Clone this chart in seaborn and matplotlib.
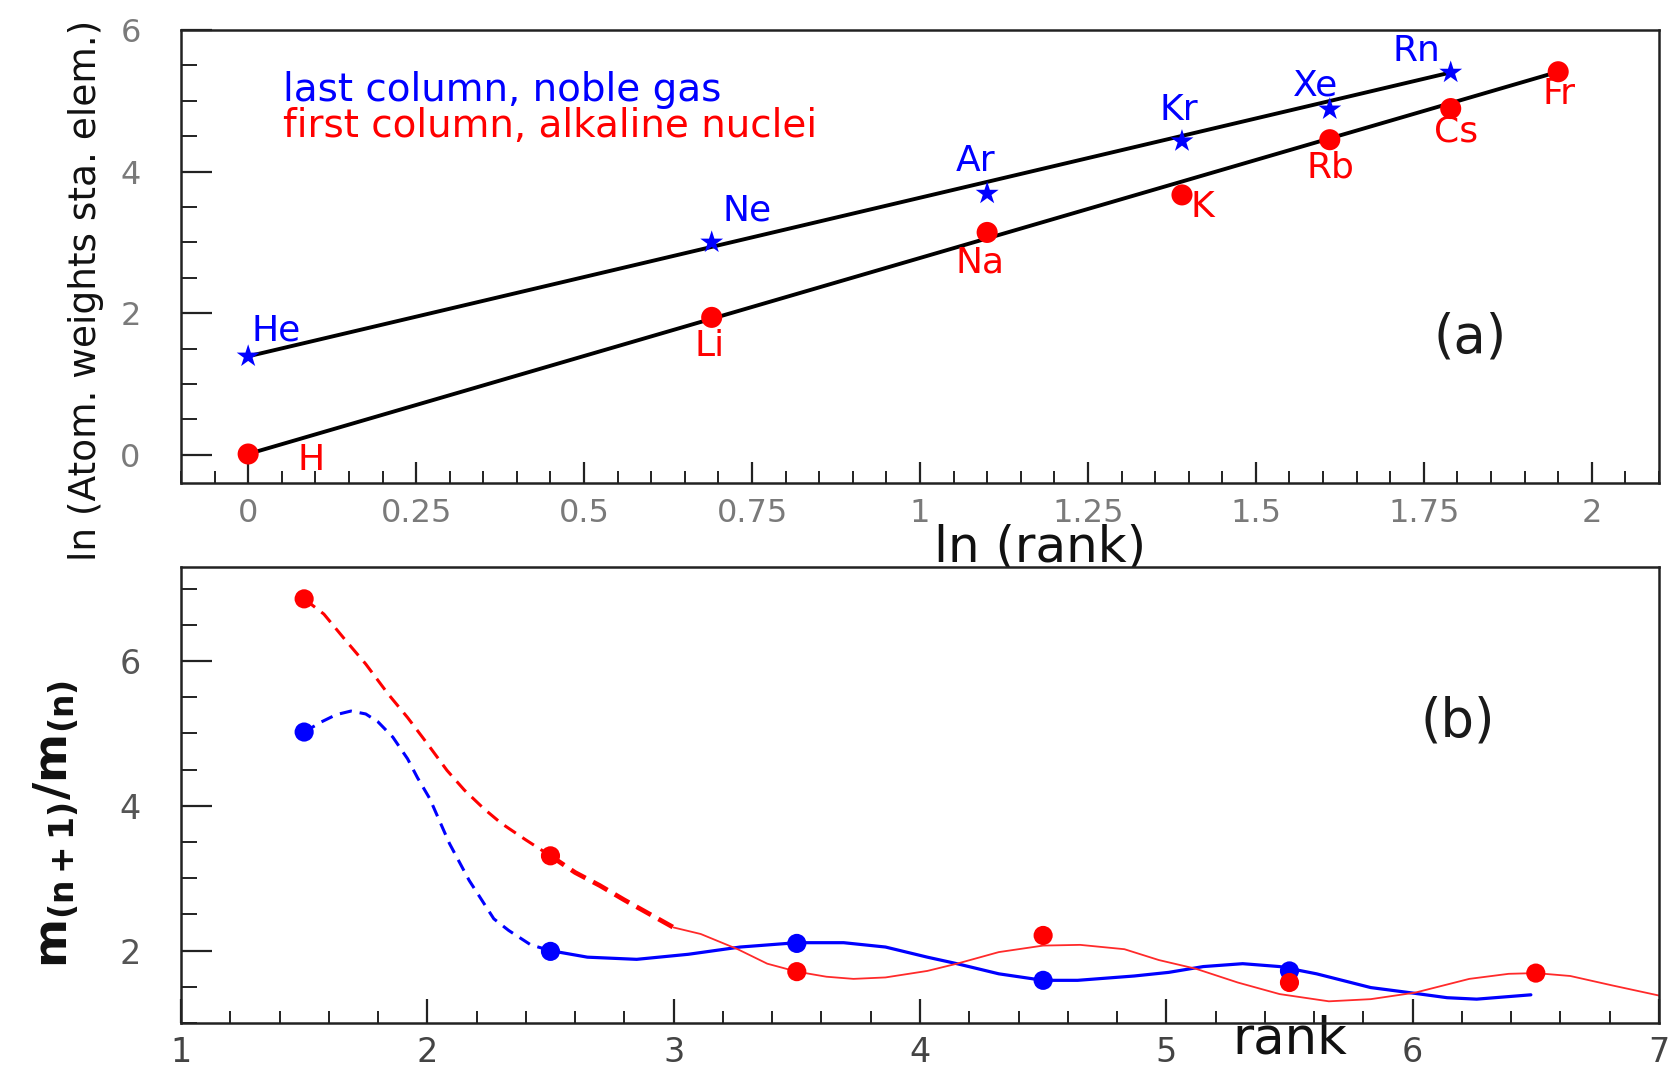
import matplotlib
matplotlib.use("Agg")
import matplotlib.pyplot as plt
import seaborn as sns
from matplotlib.ticker import MultipleLocator, FuncFormatter

# ---- panel (a): ln(atomic weight) against ln(rank) ----
ln_rank = [0.0, 0.69, 1.10, 1.39, 1.61, 1.79, 1.95]

noble_names = ["He", "Ne", "Ar", "Kr", "Xe", "Rn"]
noble_lnw = [1.39, 3.00, 3.69, 4.43, 4.88, 5.40]

alkali_names = ["H", "Li", "Na", "K", "Rb", "Cs", "Fr"]
alkali_lnw = [0.01, 1.94, 3.14, 3.67, 4.45, 4.89, 5.41]

# label offsets (pixels) from each point
noble_label_off = [(28, 26), (35, 32), (-12, 33), (-3, 31), (-14, 24), (-34, 21)]
alkali_label_off = [(63, -6), (-2, -29), (-7, -30), (20, -12), (1, -28), (5, -23), (1, -22)]

# ---- panel (b): mass ratio m(n+1)/m(n) against rank ----
rank_mid = [1.5, 2.5, 3.5, 4.5, 5.5, 6.5]
ratio_alkali = [6.86, 3.31, 1.71, 2.21, 1.56, 1.69]
ratio_noble = [5.02, 1.99, 2.10, 1.59, 1.72]

# smooth guide curves
noble_dash_x = [1.50, 1.57, 1.63, 1.69, 1.75, 1.80, 1.86, 1.92, 1.96, 2.01, 2.09,
                2.17, 2.27, 2.33, 2.42, 2.50]
noble_dash_y = [5.02, 5.16, 5.26, 5.31, 5.27, 5.16, 4.95, 4.65, 4.39, 4.10, 3.48,
                2.97, 2.44, 2.28, 2.08, 2.00]
noble_solid_x = [2.50, 2.65, 2.85, 3.06, 3.27, 3.50, 3.69, 3.86, 4.03, 4.15, 4.32,
                 4.50, 4.64, 4.87, 5.01, 5.15, 5.31, 5.46, 5.61, 5.83, 6.01, 6.14,
                 6.26, 6.37, 6.48]
noble_solid_y = [2.00, 1.91, 1.88, 1.95, 2.05, 2.11, 2.11, 2.05, 1.91, 1.82, 1.68,
                 1.59, 1.59, 1.65, 1.70, 1.78, 1.82, 1.78, 1.68, 1.49, 1.41, 1.35,
                 1.33, 1.36, 1.39]
alkali_dash_x = [1.50, 1.58, 1.67, 1.75, 1.84, 1.92, 2.00, 2.08, 2.15, 2.23, 2.30,
                 2.40, 2.50]
alkali_dash_y = [6.86, 6.65, 6.28, 5.96, 5.55, 5.22, 4.86, 4.49, 4.22, 3.96, 3.76,
                 3.53, 3.31]
alkali_thick_x = [2.50, 2.60, 2.70, 2.80, 2.90, 3.00]
alkali_thick_y = [3.31, 3.08, 2.90, 2.70, 2.51, 2.32]
alkali_solid_x = [3.00, 3.11, 3.26, 3.38, 3.50, 3.62, 3.73, 3.86, 4.03, 4.15, 4.32,
                  4.50, 4.65, 4.83, 4.97, 5.12, 5.29, 5.46, 5.66, 5.83, 6.01, 6.23,
                  6.39, 6.50, 6.64, 6.81, 7.00]
alkali_solid_y = [2.32, 2.23, 2.02, 1.82, 1.71, 1.64, 1.61, 1.63, 1.72, 1.82, 1.98,
                  2.07, 2.08, 2.02, 1.87, 1.75, 1.56, 1.40, 1.30, 1.33, 1.42, 1.61,
                  1.68, 1.69, 1.65, 1.52, 1.38]

BLUE = "#0000ff"
RED = "#ff0000"

sns.set_theme(style="white")
plt.rcParams["font.family"] = ["DejaVu Sans"]
plt.rcParams["mathtext.fontset"] = "dejavusans"

fig = plt.figure(figsize=(16.71, 10.67), dpi=100)
ax1 = fig.add_axes([0.1083, 0.5473, 0.8845, 0.4246])
ax2 = fig.add_axes([0.1083, 0.0412, 0.8845, 0.4274])

for ax in (ax1, ax2):
    for sp in ax.spines.values():
        sp.set_color("#222222")
        sp.set_linewidth(1.8)
    ax.grid(False)

# ---------------- panel (a) ----------------
noble_x = ln_rank[:len(noble_lnw)]
# straight guide lines from first to last element of each column
sns.lineplot(x=[noble_x[0], noble_x[-1]], y=[noble_lnw[0], noble_lnw[-1]], ax=ax1,
             color="black", lw=2.8, sort=False, estimator=None, zorder=2)
sns.lineplot(x=[ln_rank[0], ln_rank[-1]], y=[alkali_lnw[0], alkali_lnw[-1]], ax=ax1,
             color="black", lw=2.8, sort=False, estimator=None, zorder=2)
sns.scatterplot(x=ln_rank, y=alkali_lnw, ax=ax1, color=RED, marker="o", s=230,
                edgecolor="none", zorder=3)
sns.scatterplot(x=noble_x, y=noble_lnw, ax=ax1, color=BLUE, marker="*", s=300,
                edgecolor="none", zorder=4)

for name, x, y, off in zip(noble_names, noble_x, noble_lnw, noble_label_off):
    ax1.annotate(name, (x, y), xytext=off, textcoords="offset pixels",
                 ha="center", va="center", color=BLUE, fontsize=26)
for name, x, y, off in zip(alkali_names, ln_rank, alkali_lnw, alkali_label_off):
    ax1.annotate(name, (x, y), xytext=off, textcoords="offset pixels",
                 ha="center", va="center", color=RED, fontsize=26)

ax1.text(0.069, 0.843, "last column, noble gas", transform=ax1.transAxes,
         color=BLUE, fontsize=28, ha="left", va="baseline")
ax1.text(0.069, 0.764, "first column, alkaline nuclei", transform=ax1.transAxes,
         color=RED, fontsize=28, ha="left", va="baseline")
ax1.text(0.872, 0.322, "(a)", transform=ax1.transAxes, fontsize=38,
         color="#1a1a1a", ha="center", va="center")

ax1.set_xlim(-0.1, 2.1)
ax1.set_ylim(-0.4, 6.0)
ax1.xaxis.set_major_locator(MultipleLocator(0.25))
ax1.xaxis.set_minor_locator(MultipleLocator(0.05))
ax1.yaxis.set_major_locator(MultipleLocator(2))
ax1.yaxis.set_minor_locator(MultipleLocator(0.5))
ax1.xaxis.set_major_formatter(FuncFormatter(lambda v, p: f"{v:g}"))
ax1.tick_params(axis="x", which="major", direction="in", length=15, width=1.6,
                labelsize=23, labelcolor="#7a7a7a", pad=11, color="#222222",
                top=False, bottom=True)
ax1.tick_params(axis="x", which="minor", direction="in", length=8.5, width=1.4,
                color="#222222", top=False, bottom=True)
ax1.tick_params(axis="y", which="major", direction="in", length=22, width=1.6,
                labelsize=23, labelcolor="#7a7a7a", pad=29, color="#222222",
                left=True, right=False)
ax1.tick_params(axis="y", which="minor", direction="in", length=11.5, width=1.4,
                color="#222222", left=True, right=False)

ax1.set_xlabel("ln (rank)", fontsize=36, color="#111111")
ax1.xaxis.set_label_coords(0.581, -0.142)
ax1.xaxis.label.set(va="center", ha="center")
ax1.set_ylabel("ln (Atom. weights sta. elem.)", fontsize=27, color="#111111")
ax1.yaxis.set_label_coords(-0.0643, 0.425)
ax1.yaxis.label.set(va="center", ha="center")

# ---------------- panel (b) ----------------
sns.lineplot(x=noble_dash_x, y=noble_dash_y, ax=ax2, color=BLUE, lw=2.2,
             linestyle=(0, (4, 2.6)), sort=False, estimator=None, zorder=2)
sns.lineplot(x=noble_solid_x, y=noble_solid_y, ax=ax2, color=BLUE, lw=2.3,
             sort=False, estimator=None, zorder=2)
sns.lineplot(x=alkali_dash_x, y=alkali_dash_y, ax=ax2, color=RED, lw=2.2,
             linestyle=(0, (4.5, 2.6)), sort=False, estimator=None, zorder=2)
sns.lineplot(x=alkali_thick_x, y=alkali_thick_y, ax=ax2, color=RED, lw=3.4,
             linestyle=(0, (3.5, 1.8)), sort=False, estimator=None, zorder=2)
sns.lineplot(x=alkali_solid_x, y=alkali_solid_y, ax=ax2, color="#ff2a2a", lw=1.3,
             sort=False, estimator=None, zorder=2)

sns.scatterplot(x=rank_mid[:len(ratio_noble)], y=ratio_noble, ax=ax2, color=BLUE,
                marker="o", s=190, edgecolor="none", zorder=3)
sns.scatterplot(x=rank_mid, y=ratio_alkali, ax=ax2, color=RED, marker="o", s=190,
                edgecolor="none", zorder=4)

ax2.text(0.864, 0.662, "(b)", transform=ax2.transAxes, fontsize=38,
         color="#1a1a1a", ha="center", va="center")

ax2.set_xlim(1, 7)
ax2.set_ylim(1, 7.3)
ax2.xaxis.set_major_locator(MultipleLocator(1))
ax2.xaxis.set_minor_locator(MultipleLocator(0.2))
ax2.yaxis.set_major_locator(MultipleLocator(2))
ax2.yaxis.set_minor_locator(MultipleLocator(0.5))
ax2.xaxis.set_major_formatter(FuncFormatter(lambda v, p: f"{v:g}"))
ax2.yaxis.set_major_formatter(FuncFormatter(lambda v, p: f"{v:g}"))
ax2.tick_params(axis="x", which="major", direction="in", length=17, width=1.6,
                labelsize=24, labelcolor="#444444", pad=9, color="#222222",
                top=False, bottom=True)
ax2.tick_params(axis="x", which="minor", direction="in", length=8.5, width=1.4,
                color="#222222", top=False, bottom=True)
ax2.tick_params(axis="y", which="major", direction="in", length=22, width=1.6,
                labelsize=24, labelcolor="#555555", pad=29, color="#222222",
                left=True, right=False)
ax2.tick_params(axis="y", which="minor", direction="in", length=11.5, width=1.4,
                color="#222222", left=True, right=False)

ax2.set_xlabel("rank", fontsize=37, color="#111111")
ax2.xaxis.set_label_coords(0.750, -0.036)
ax2.xaxis.label.set(va="center", ha="center")
ax2.set_ylabel(r"$\mathbf{m_{(n+1)}/m_{(n)}}$", fontsize=34, color="#111111")
ax2.yaxis.set_label_coords(-0.0846, 0.436)
ax2.yaxis.label.set(va="center", ha="center")

fig.savefig("out.png", dpi=100, facecolor="white")
